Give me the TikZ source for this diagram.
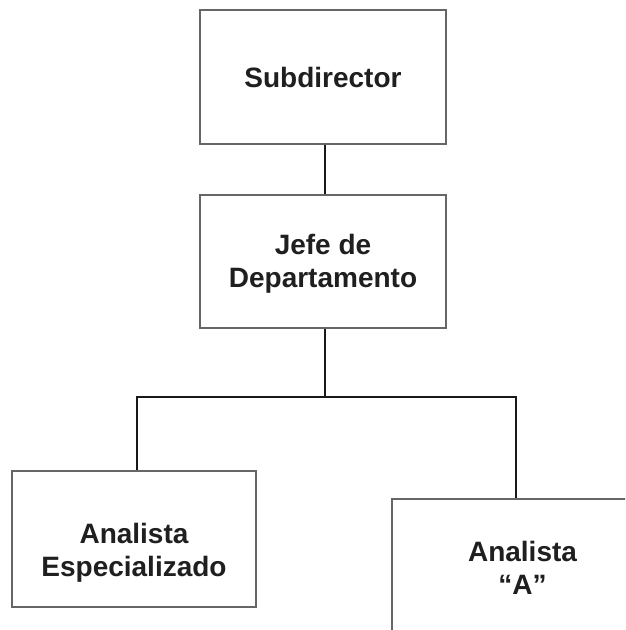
\documentclass[tikz,border=0pt]{standalone}
\usepackage{fontspec}
\setmainfont{Liberation Sans}
\newcommand{\lowertext}[2]{\raisebox{#1}[0pt][0pt]{\begin{tabular}{@{}c@{}}#2\end{tabular}}}
\begin{document}
\begin{tikzpicture}[x=1pt,y=-1pt,
  box/.style={draw=black!60,line width=1.2pt,fill=white,rectangle,inner sep=0pt,align=center,
    font=\fontsize{28}{33}\selectfont\bfseries,text=black!88},
  conn/.style={draw=black!90,line width=2pt}]
\clip (0,0) rectangle (625,630);
\fill[white] (0,0) rectangle (625,630);
\node[box,minimum width=246pt,minimum height=134pt] (sub) at (323,77) {Subdirector};
\node[box,minimum width=246pt,minimum height=133pt] (jefe) at (323,261.5) {\lowertext{-9pt}{Jefe de\\Departamento}};
\node[box,minimum width=244pt,minimum height=136pt] (left) at (134,539) {\lowertext{-21pt}{Analista\\Especializado}};
\node[box,minimum width=261pt,minimum height=138pt] (right) at (522.5,568) {Analista\\``A''};
\coordinate (bl) at (137,397);
\coordinate (br) at (516,397);
\draw[conn] (sub.south -| 325,0) -- (jefe.north -| 325,0);
\draw[conn] (jefe.south -| 325,0) -- (bl -| 325,0);
\draw[conn] (left.north -| bl) -- (bl) -- (br) -- (right.north -| br);
\end{tikzpicture}
\end{document}
